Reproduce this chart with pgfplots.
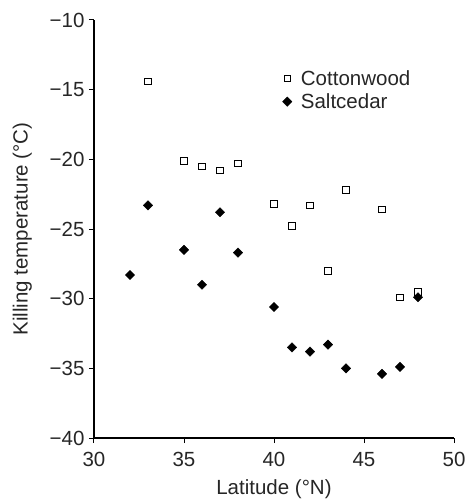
\documentclass[border=0pt]{standalone}
\usepackage{fontspec}
\setmainfont{Liberation Sans}
\usepackage{pgfplots}
\pgfplotsset{compat=1.18}
\begin{document}
\begin{tikzpicture}
\useasboundingbox (-94bp,-62bp) rectangle (374bp,438bp);
\begin{axis}[
  anchor=south west, at={(0,0)},
  scale only axis, width=360bp, height=418bp,
  xmin=30, xmax=50, ymin=-40, ymax=-10,
  axis lines=left, axis line style={line width=1.5bp, -},
  xtick={30,35,40,45,50}, ytick={-40,-35,-30,-25,-20,-15,-10},
  xticklabels={30,35,40,45,50},
  yticklabels={−40,−35,−30,−25,−20,−15,−10},
  tick align=outside, tick style={line width=1bp, black}, major tick length=5bp,
  tick label style={font=\fontsize{20.5bp}{24bp}\selectfont, text=black!85},
  label style={font=\fontsize{20.5bp}{24bp}\selectfont, text=black!85},
  xticklabel style={yshift=-6bp},
  yticklabel style={xshift=-1bp},
  xlabel={Latitude (°N)}, ylabel={Killing temperature (°C)},
  xlabel style={yshift=-6bp}, ylabel style={yshift=11bp},
  legend style={at={(0.515,0.89)}, anchor=north west, draw=none, fill=none,
    font=\fontsize{20.5bp}{24bp}\selectfont, text=black!85, row sep=3bp},
  legend cell align=left,
  clip=false,
]
\addplot[only marks, mark=square, mark size=3.3bp, mark options={line width=0.9bp, black}]
coordinates {(33,-14.4) (35,-20.1) (36,-20.5) (37,-20.8) (38,-20.3) (40,-23.2) (41,-24.8) (42,-23.3) (43,-28.0) (44,-22.2) (46,-23.6) (47,-29.9) (48,-29.5)};
\addlegendentry{\hspace{7bp}Cottonwood}
\addplot[only marks, mark=square*, mark size=3.3bp, mark options={rotate=45, black, fill=black}]
coordinates {(32,-28.3) (33,-23.3) (35,-26.5) (36,-29.0) (37,-23.8) (38,-26.7) (40,-30.6) (41,-33.5) (42,-33.8) (43,-33.3) (44,-35.0) (46,-35.4) (47,-34.9) (48,-29.9)};
\addlegendentry{\hspace{7bp}Saltcedar}
\end{axis}
\end{tikzpicture}
\end{document}
